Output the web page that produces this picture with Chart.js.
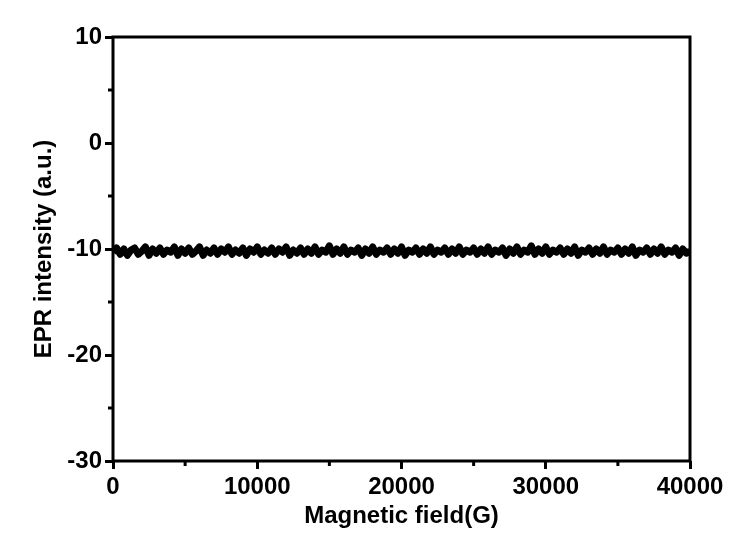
<!DOCTYPE html>
<html>
<head>
<meta charset="utf-8">
<script src="https://cdn.jsdelivr.net/npm/chart.js@4"></script>
<style>
  html, body { margin: 0; padding: 0; background: #fff; }
  #wrap { width: 730px; height: 535px; }
</style>
</head>
<body>
<div id="wrap"><canvas id="epr-chart" width="730" height="535"></canvas></div>
<script>
// sweep: 0 .. 40000 G, one reading every 250 G
const fieldStart = 0;
const fieldStep = 250;

// EPR signal (a.u.)
const intensity = [
  -10.3, -9.9, -10.5, -10.0, -10.6, -10.1, -9.9, -10.5, -10.2, -9.8, -10.6, -10.0, -10.4, -9.9, -10.5, -10.1, -10.3, -9.8, -10.6, -10.0,
  -10.4, -9.9, -10.5, -10.2, -9.8, -10.6, -10.1, -10.4, -9.9, -10.5, -10.0, -10.3, -9.8, -10.5, -10.1, -10.4, -9.9, -10.6, -10.0, -10.3,
  -9.8, -10.5, -10.1, -10.4, -9.9, -10.5, -10.0, -10.3, -9.8, -10.6, -10.1, -10.4, -9.9, -10.5, -10.0, -10.4, -9.8, -10.5, -10.1, -10.3,
  -9.7, -10.5, -10.0, -10.4, -9.8, -10.5, -10.1, -10.3, -9.9, -10.6, -10.0, -10.4, -9.8, -10.5, -10.1, -10.3, -9.9, -10.5, -10.0, -10.4,
  -9.8, -10.6, -10.1, -10.3, -9.9, -10.5, -10.0, -10.4, -9.8, -10.5, -10.1, -10.3, -9.9, -10.5, -10.0, -10.4, -9.8, -10.5, -10.1, -10.3,
  -9.9, -10.5, -10.0, -10.4, -9.8, -10.5, -10.1, -10.3, -9.9, -10.6, -10.0, -10.4, -9.8, -10.5, -10.1, -10.3, -9.7, -10.5, -10.0, -10.4,
  -9.8, -10.5, -10.1, -10.3, -9.9, -10.5, -10.0, -10.4, -9.8, -10.6, -10.1, -10.3, -9.9, -10.5, -10.0, -10.4, -9.8, -10.5, -10.1, -10.3,
  -9.9, -10.5, -10.0, -10.4, -9.8, -10.6, -10.1, -10.3, -9.9, -10.5, -10.0, -10.4, -9.8, -10.5, -10.1, -10.3, -9.9, -10.6, -10.0, -10.4,
  -10.2
];

const xMajorTicks = [0, 10000, 20000, 30000, 40000];
const yMajorTicks = [-30, -20, -10, 0, 10];
const xMinorTicks = [5000, 15000, 25000, 35000];
const yMinorTicks = [-25, -15, -5, 5];

const points = intensity.map((v, i) => ({ x: fieldStart + i * fieldStep, y: v }));

const labelFont = { family: '"Liberation Sans", Arial, sans-serif', size: 24, weight: 'bold' };

// black frame around the plot area + short minor ticks
const framePlugin = {
  id: 'frame',
  afterDraw(chart) {
    const a = chart.chartArea;
    const ctx = chart.ctx;
    const xs = chart.scales.x, ys = chart.scales.y;
    ctx.save();
    ctx.strokeStyle = '#000';
    ctx.lineWidth = 3;
    ctx.strokeRect(a.left, a.top, a.right - a.left, a.bottom - a.top);
    ctx.beginPath();
    xMinorTicks.forEach(v => {
      const px = xs.getPixelForValue(v);
      ctx.moveTo(px, a.bottom);
      ctx.lineTo(px, a.bottom + 5);
    });
    yMinorTicks.forEach(v => {
      const py = ys.getPixelForValue(v);
      ctx.moveTo(a.left, py);
      ctx.lineTo(a.left - 5, py);
    });
    ctx.stroke();
    ctx.restore();
  }
};

new Chart(document.getElementById('epr-chart').getContext('2d'), {
  type: 'line',
  data: {
    datasets: [{
      data: points,
      borderColor: '#000',
      borderWidth: 7,
      borderJoinStyle: 'round',
      pointRadius: 0,
      tension: 0
    }]
  },
  options: {
    responsive: false,
    animation: false,
    layout: { padding: { top: 37, right: 40, left: 0, bottom: 0 } },
    plugins: { legend: { display: false }, tooltip: { enabled: false } },
    scales: {
      x: {
        type: 'linear',
        min: 0,
        max: 40000,
        afterFit(scale) { scale.height = 74; },
        afterBuildTicks(scale) { scale.ticks = xMajorTicks.map(v => ({ value: v })); },
        border: { display: false },
        grid: {
          drawOnChartArea: false,
          tickLength: 8,
          tickWidth: 3,
          tickColor: '#000'
        },
        ticks: {
          autoSkip: false,
          maxRotation: 0,
          color: '#000',
          font: labelFont,
          padding: 4,
          callback: v => String(v)
        },
        title: {
          display: true,
          text: 'Magnetic field(G)',
          color: '#000',
          font: labelFont,
          padding: { top: 0, bottom: 4 }
        }
      },
      y: {
        min: -30,
        max: 10,
        afterFit(scale) { scale.width = 113; },
        afterBuildTicks(scale) { scale.ticks = yMajorTicks.map(v => ({ value: v })); },
        border: { display: false },
        grid: {
          drawOnChartArea: false,
          tickLength: 8,
          tickWidth: 3,
          tickColor: '#000'
        },
        ticks: {
          autoSkip: false,
          color: '#000',
          font: labelFont,
          padding: 3,
          callback: v => String(v)
        },
        title: {
          display: true,
          text: 'EPR intensity (a.u.)',
          color: '#000',
          font: labelFont,
          padding: { top: 30, bottom: 0 }
        }
      }
    }
  },
  plugins: [framePlugin]
});
</script>
</body>
</html>
